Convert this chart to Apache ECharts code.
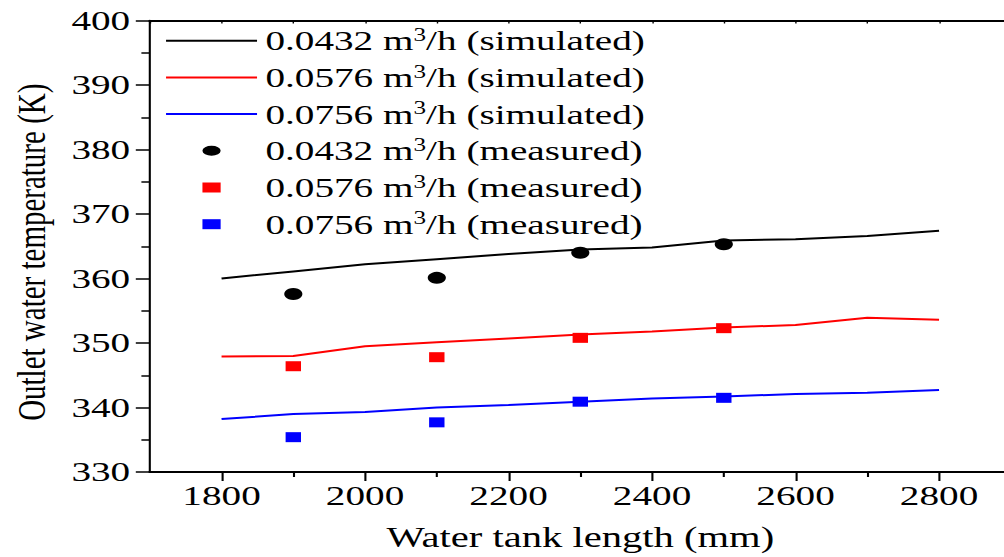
<!DOCTYPE html>
<html>
<head>
<meta charset="utf-8">
<script src="https://cdn.jsdelivr.net/npm/echarts@6/dist/echarts.min.js"></script>
<style>
html, body { margin: 0; padding: 0; overflow: hidden; background: #fff; }
/* the source figure is stretched sideways, so draw narrow and scale x */
#chart { width: 722px; height: 557px; transform: scaleX(1.4); transform-origin: 0 0; }
</style>
</head>
<body>
<div id="chart"></div>
<script>
// tank length (mm) for the simulated curves
const simLength = [1800, 1900, 2000, 2100, 2200, 2300, 2400, 2500, 2600, 2700, 2800];
const sim0432 = [360.0, 361.1, 362.2, 363.0, 363.8, 364.5, 364.8, 365.9, 366.1, 366.6, 367.4];
const sim0576 = [347.9, 348.0, 349.5, 350.1, 350.7, 351.3, 351.8, 352.4, 352.8, 353.9, 353.6];
const sim0756 = [338.2, 339.0, 339.3, 340.0, 340.4, 340.9, 341.4, 341.7, 342.1, 342.3, 342.7];

// measured points
const measLength = [1900, 2100, 2300, 2500];
const meas0432 = [357.6, 360.1, 364.0, 365.3];
const meas0576 = [346.4, 347.8, 350.8, 352.3];
const meas0756 = [335.4, 337.7, 340.9, 341.5];

// axis ticks
const xMajor = [1800, 2000, 2200, 2400, 2600, 2800];
const xMinor = [1900, 2100, 2300, 2500, 2700];

const flows = ['0.0432', '0.0576', '0.0756'];
const colors = ['#000000', '#ff0000', '#0000ff'];

const font = '"Liberation Serif", "Times New Roman", Times, serif';

function pairs(xs, ys) {
  return xs.map((x, i) => [x, ys[i]]);
}

const simNames = flows.map(f => f + ' m3/h (simulated)');
const measNames = flows.map(f => f + ' m3/h (measured)');

const simData = [sim0432, sim0576, sim0756];
const measData = [meas0432, meas0576, meas0756];

const lineIcon = 'path://M0,0h65v2h-65z';
const ellipseIcon = 'path://M0,5a6.5,5 0 1,0 13,0a6.5,5 0 1,0 -13,0z';
const rectIcon = 'path://M0,0h13v10h-13z';

const series = [];
simData.forEach((d, i) => {
  series.push({
    name: simNames[i],
    type: 'line',
    data: pairs(simLength, d),
    symbol: 'none',
    lineStyle: { color: colors[i], width: 2 },
    itemStyle: { color: colors[i] }
  });
});
measData.forEach((d, i) => {
  series.push({
    name: measNames[i],
    type: 'scatter',
    data: pairs(measLength, d),
    symbol: i === 0 ? 'circle' : 'rect',
    symbolSize: i === 0 ? [13, 12] : [11, 10],
    itemStyle: { color: colors[i], opacity: 1 }
  });
});

const legendData = simNames.map(n => ({ name: n, icon: lineIcon }))
  .concat(measNames.map((n, i) => ({ name: n, icon: i === 0 ? ellipseIcon : rectIcon })));

const chart = echarts.init(document.getElementById('chart'), null, { renderer: 'svg' });

const tickLine = { color: '#000', width: 1.5 };

chart.setOption({
  animation: false,
  backgroundColor: '#fff',
  grid: { left: 104.6, right: 0, top: 20.5, bottom: 84.7, containLabel: false },
  legend: {
    orient: 'vertical',
    left: 118.6,
    top: 25.7,
    padding: 0,
    itemWidth: 65,
    itemHeight: 10,
    itemGap: 6.7,
    selectedMode: false,
    data: legendData,
    formatter: name => name.replace('m3/h', 'm{sup|3}/h'),
    textStyle: {
      fontFamily: font,
      fontSize: 28,
      color: '#000',
      lineHeight: 30,
      padding: [0, 0, 0, 1],
      rich: {
        sup: { fontFamily: font, fontSize: 18, lineHeight: 10, verticalAlign: 'top', color: '#000' }
      }
    }
  },
  xAxis: [{
    type: 'value',
    min: 1700,
    max: 2900,
    name: 'Water tank length (mm)',
    nameLocation: 'middle',
    nameGap: 51,
    nameTextStyle: { fontFamily: font, fontSize: 29, color: '#000' },
    axisLine: { show: true, onZero: false, lineStyle: { color: '#000', width: 2 } },
    axisTick: { show: true, inside: false, length: 9, customValues: xMajor, lineStyle: tickLine },
    axisLabel: {
      fontFamily: font, fontSize: 28, color: '#000', margin: 10,
      customValues: xMajor, formatter: v => String(v)
    },
    splitLine: { show: false }
  }, {
    type: 'value',
    position: 'top',
    min: 1700,
    max: 2900,
    interval: 100,
    axisLine: { show: true, onZero: false, lineStyle: { color: '#000', width: 2 } },
    axisTick: { show: true, inside: true, length: 3, lineStyle: { color: '#000', width: 1 } },
    axisLabel: { show: false },
    splitLine: { show: false }
  }, {
    type: 'value',
    position: 'bottom',
    min: 1700,
    max: 2900,
    axisLine: { show: false },
    axisTick: { show: true, inside: false, length: 5, customValues: xMinor, lineStyle: tickLine },
    axisLabel: { show: false },
    splitLine: { show: false }
  }],
  yAxis: {
    type: 'value',
    min: 330,
    max: 400,
    interval: 10,
    name: 'Outlet water temperature (K)',
    nameLocation: 'middle',
    nameGap: 70,
    nameTextStyle: { fontFamily: font, fontSize: 29, color: '#000', padding: [0, 12, 0, 0] },
    axisLine: { show: true, onZero: false, lineStyle: { color: '#000', width: 1.5 } },
    axisTick: { show: true, inside: false, length: 10, lineStyle: tickLine },
    minorTick: { show: true, splitNumber: 2, length: 6, lineStyle: tickLine },
    axisLabel: { fontFamily: font, fontSize: 28, color: '#000', margin: 14 },
    splitLine: { show: false }
  },
  series: series
});
</script>
</body>
</html>
